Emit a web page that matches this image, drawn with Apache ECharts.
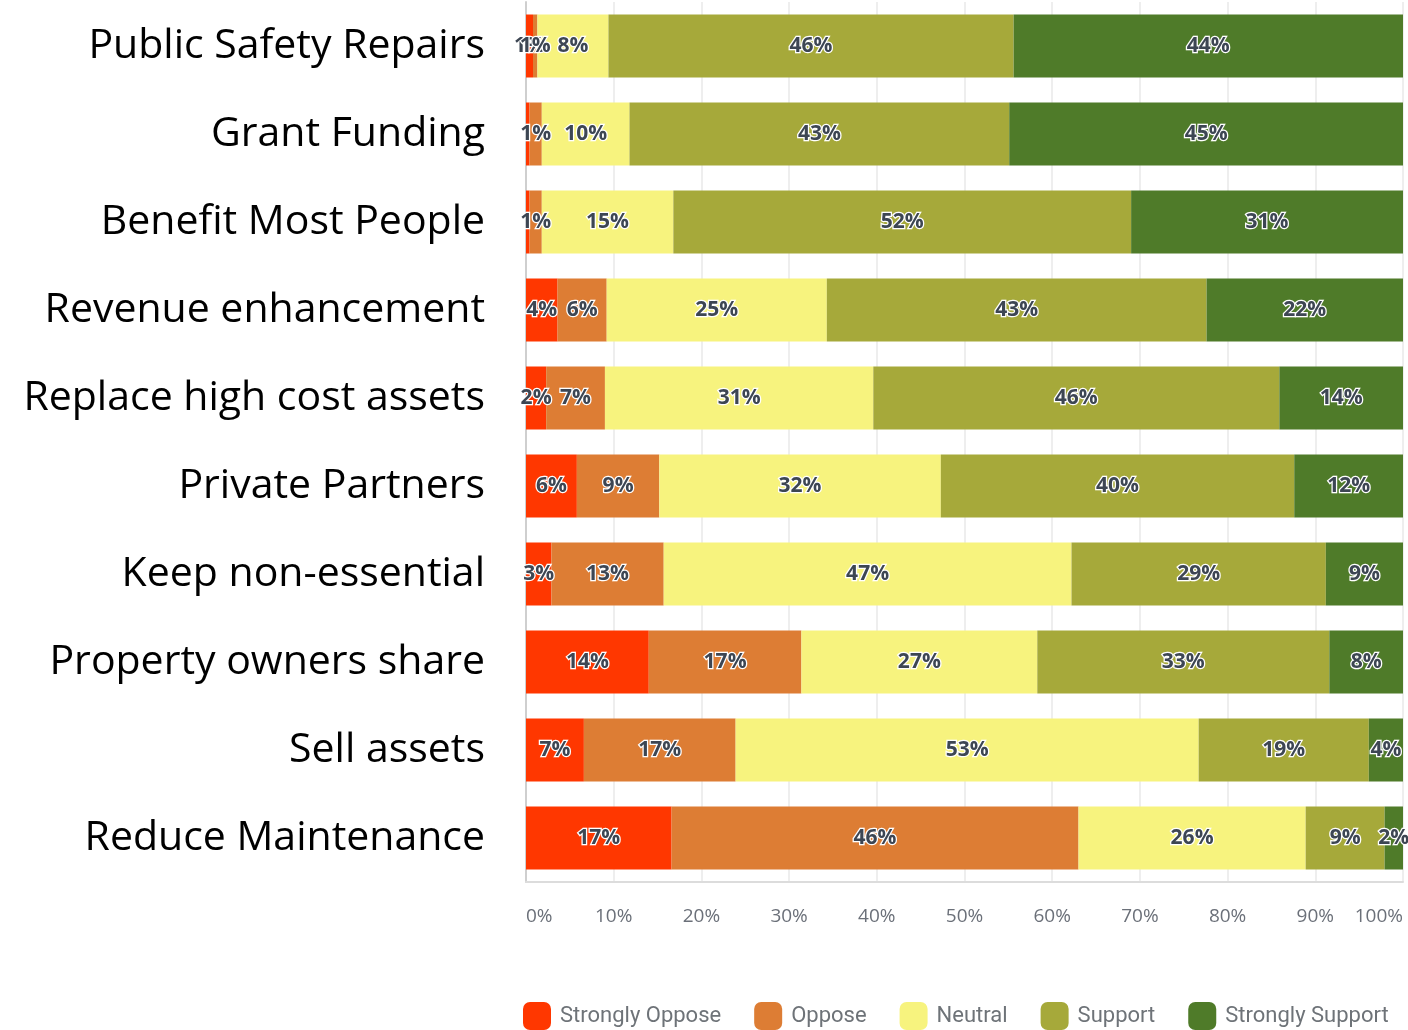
<!DOCTYPE html>
<html>
<head>
<meta charset="utf-8">
<script src="https://cdn.jsdelivr.net/npm/echarts@6/dist/echarts.min.js"></script>
<style>
  html, body { margin: 0; padding: 0; background: #fff; }
  #main { width: 1408px; height: 1030px; }
</style>
</head>
<body>
<div id="main"></div>
<script>
// survey categories, top to bottom
var categories = ['Public Safety Repairs', 'Grant Funding', 'Benefit Most People', 'Revenue enhancement',
  'Replace high cost assets', 'Private Partners', 'Keep non-essential', 'Property owners share',
  'Sell assets', 'Reduce Maintenance'];

// percent of answers per category
var stronglyOppose  = [0.8, 0.4, 0.4, 3.6, 2.3, 5.8, 2.9, 14.0, 6.6, 16.6];
var oppose          = [0.5, 1.4, 1.4, 5.6, 6.7, 9.4, 12.8, 17.4, 17.3, 46.4];
var neutral         = [8.1, 10.0, 15.0, 25.1, 30.6, 32.1, 46.5, 26.9, 52.8, 25.9];
var support         = [46.2, 43.3, 52.2, 43.3, 46.3, 40.3, 29.0, 33.3, 19.4, 9.0];
var stronglySupport = [44.4, 44.9, 31.0, 22.4, 14.1, 12.4, 8.8, 8.4, 3.9, 2.1];

var tickLabels = ['0%', '10%', '20%', '30%', '40%', '50%', '60%', '70%', '80%', '90%', '100%'];

var seriesNames = ['Strongly Oppose', 'Oppose', 'Neutral', 'Support', 'Strongly Support'];
var seriesData = [stronglyOppose, oppose, neutral, support, stronglySupport];
var colors = ['#ff3700', '#dd7d34', '#f7f37e', '#a6a93a', '#4f7b29'];

var myChart = echarts.init(document.getElementById('main'));

var series = [];
for (var i = 0; i < seriesNames.length; i++) {
  series.push({
    name: seriesNames[i],
    type: 'bar',
    stack: 'total',
    barWidth: 63,
    itemStyle: { color: colors[i] },
    label: {
      show: true,
      position: 'inside',
      formatter: function (p) {
        return (p.value < 0.5 ? '' : Math.round(p.value) + '%');
      },
      fontFamily: 'Open Sans',
      fontWeight: 'bold',
      fontSize: 21,
      color: '#3d4653',
      textBorderColor: '#ffffff',
      textBorderWidth: 2.5
    },
    data: seriesData[i]
  });
}

var option = {
  animation: false,
  color: colors,
  grid: { left: 526, right: 5, top: 2, bottom: 148 },
  legend: {
    top: 1002,
    left: 523,
    padding: 0,
    itemWidth: 28,
    itemHeight: 28,
    itemGap: 33,
    icon: 'roundRect',
    textStyle: {
      fontFamily: 'Roboto',
      fontSize: 22,
      color: '#6e7378',
      padding: [0, 0, 0, 4]
    },
    data: seriesNames
  },
  xAxis: {
    type: 'value',
    min: 0,
    max: 100,
    interval: 10,
    axisLine: { show: true, lineStyle: { color: '#dcdcdc', width: 2 } },
    axisTick: { show: false },
    splitLine: { show: true, lineStyle: { color: '#e8e8e8', width: 1.5 } },
    axisLabel: {
      margin: 25,
      fontFamily: 'Open Sans',
      fontSize: 19,
      color: '#6b7079',
      alignMinLabel: 'left',
      alignMaxLabel: 'right',
      formatter: function (v) { return tickLabels[Math.round(v / 10)]; }
    }
  },
  yAxis: {
    type: 'category',
    inverse: true,
    data: categories,
    axisLine: { show: true, lineStyle: { color: '#cfcfcf', width: 2 } },
    axisTick: { show: false },
    axisLabel: {
      margin: 41,
      fontFamily: 'Open Sans',
      fontSize: 41,
      color: '#000000',
      padding: [4, 0, 0, 0]
    }
  },
  series: series
};
myChart.setOption(option);
</script>
</body>
</html>
